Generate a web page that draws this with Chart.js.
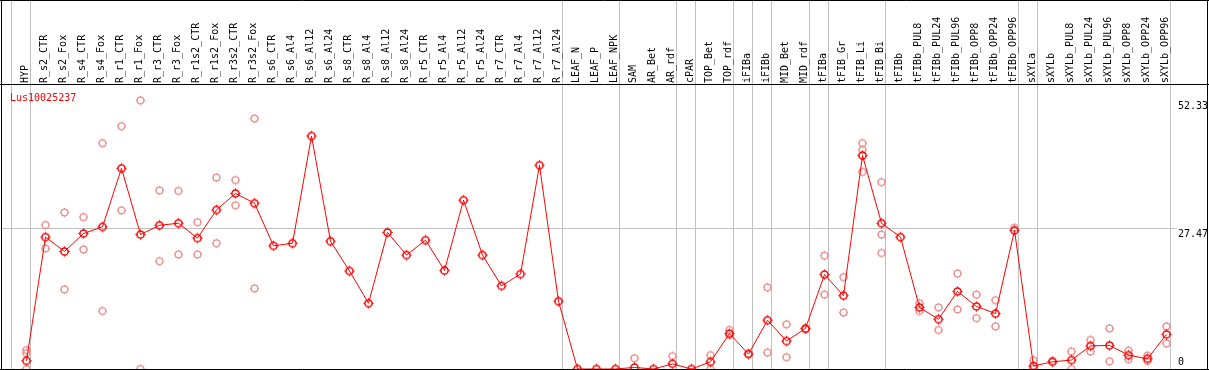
<!DOCTYPE html>
<html>
<head>
<meta charset="utf-8">
<script src="https://cdn.jsdelivr.net/npm/chart.js@4/dist/chart.umd.min.js"></script>
<style>
  html, body { margin: 0; padding: 0; background: #ffffff; }
  #wrap { width: 1209px; height: 370px; position: relative; }
</style>
</head>
<body>
<div id="wrap"><canvas id="c" width="1209" height="370"></canvas></div>
<script>
const chartTitle = "Lus10025237";

const categories = [
  "HYP","R_s2_CTR","R_s2_Fox","R_s4_CTR","R_s4_Fox","R_r1_CTR","R_r1_Fox","R_r3_CTR","R_r3_Fox",
  "R_r1s2_CTR","R_r1s2_Fox","R_r3s2_CTR","R_r3s2_Fox","R_s6_CTR","R_s6_Al4","R_s6_Al12","R_s6_Al24",
  "R_s8_CTR","R_s8_Al4","R_s8_Al12","R_s8_Al24","R_r5_CTR","R_r5_Al4","R_r5_Al12","R_r5_Al24",
  "R_r7_CTR","R_r7_Al4","R_r7_Al12","R_r7_Al24","LEAF_N","LEAF_P","LEAF_NPK","SAM","AR_Bet","AR_rdf",
  "cPAR","TOP_Bet","TOP_rdf","iFIBa","iFIBb","MID_Bet","MID_rdf","tFIBa","tFIB_Gr","tFIB_Li","tFIB_Bi",
  "tFIBb","tFIBb_PUL8","tFIBb_PUL24","tFIBb_PUL96","tFIBb_OPP8","tFIBb_OPP24","tFIBb_OPP96",
  "sXYLa","sXYLb","sXYLb_PUL8","sXYLb_PUL24","sXYLb_PUL96","sXYLb_OPP8","sXYLb_OPP24","sXYLb_OPP96"
];

const meanValues = [
  1.6, 25.7, 22.9, 26.4, 27.7, 39.1, 26.2, 28.0, 28.4,
  25.5, 31.0, 34.2, 32.3, 24.0, 24.5, 45.4, 24.9,
  19.1, 12.8, 26.6, 22.2, 25.1, 19.2, 32.9, 22.2,
  16.2, 18.5, 39.7, 13.2, 0, 0, 0, 0.3, 0, 1.0,
  0, 1.4, 6.9, 2.9, 9.5, 5.45, 7.9, 18.4, 14.3, 41.6, 28.4,
  25.7, 12.0, 9.7, 15.1, 12.2, 10.8, 27.0,
  0.6, 1.4, 1.75, 4.5, 4.6, 2.7, 2.0, 6.75
];

const replicateA = [
  3.7, 28.05, 30.5, 29.6, 44.0, 47.3, 52.33, 34.8, 34.7,
  28.6, 37.3, 36.8, 48.8, null, null, null, null,
  null, null, null, null, null, null, null, null,
  null, null, null, null, null, null, null, 2.1, null, 2.5,
  null, 2.7, 7.6, 3.05, 15.9, 8.7, 7.7, 22.1, 17.9, 44.0, 36.4,
  null, 12.8, 12.0, 18.6, 14.5, 13.4, 27.5,
  1.7, 1.6, 3.4, 5.65, 7.9, 3.6, 2.6, 8.3
];

const replicateB = [
  3.1, 23.5, 15.5, 23.3, 11.3, 30.9, 0, 21.0, 22.3,
  22.3, 24.5, 31.9, 15.7, null, null, null, null,
  null, null, null, null, null, null, null, null,
  null, null, null, null, null, null, null, null, null, null,
  null, 0, 6.6, null, 3.2, 2.3, null, 14.5, 11.0, 42.7, 26.2,
  null, 11.3, 7.6, 11.6, 9.9, 8.3, null,
  0, null, 0, 3.4, 1.5, 1.9, 1.56, 5.0
];

const replicateC = [
  0, null, null, null, null, null, null, null, null,
  null, null, null, null, null, null, null, null,
  null, null, null, null, null, null, null, null,
  null, null, null, null, null, null, null, null, null, null,
  null, null, null, null, null, null, null, null, null, 38.4, 22.6,
  null, null, null, null, null, null, null,
  null, null, null, null, null, null, null, null
];

const yTickLabels = ["52.33", "27.47", "0"];
const yTickValues = [52.33, 27.47, 0];
const gridValues = [27.47];
const groupEnds = [-1, 0, 28, 31, 34, 35, 37, 38, 39, 41, 42, 45, 52, 53, 60];

function makeMarker(color, r, lw, tick) {
  const s = 15;
  const cv = document.createElement('canvas');
  cv.width = s; cv.height = s;
  const g = cv.getContext('2d');
  const c = s / 2;
  g.strokeStyle = color;
  g.lineWidth = lw;
  g.beginPath();
  g.arc(c, c, r, 0, Math.PI * 2);
  g.stroke();
  g.lineWidth = 1;
  g.beginPath();
  g.moveTo(c, c - r - tick); g.lineTo(c, c - r);
  g.moveTo(c, c + r); g.lineTo(c, c + r + tick);
  g.moveTo(c - r - tick, c); g.lineTo(c - r, c);
  g.moveTo(c + r, c); g.lineTo(c + r + tick, c);
  g.stroke();
  return cv;
}
const mainMarker = makeMarker('#ff0000', 3.6, 1.5, 1.5);
const repMarker = makeMarker('#ec8c8c', 3.4, 1.3, 1.2);

const FONT = '10px "DejaVu Sans Mono", "Liberation Mono", monospace';

const decor = {
  id: 'decor',
  beforeDatasetsDraw(chart) {
    const ctx = chart.ctx;
    const xs = chart.scales.x, ys = chart.scales.y;
    const H = chart.height;
    const step = xs.getPixelForValue(1) - xs.getPixelForValue(0);
    ctx.save();
    ctx.strokeStyle = '#c0c0c0';
    ctx.lineWidth = 1;
    ctx.beginPath();
    groupEnds.forEach(i => {
      const px = Math.round(xs.getPixelForValue(0) + i * step + 0.19 * step) + 0.5;
      ctx.moveTo(px, 0); ctx.lineTo(px, H);
    });
    gridValues.forEach(v => {
      const py = Math.round(ys.getPixelForValue(v)) + 0.5;
      ctx.moveTo(1, py); ctx.lineTo(1177, py);
    });
    ctx.stroke();
    ctx.fillStyle = '#000000';
    ctx.font = FONT;
    ctx.textAlign = 'left';
    ctx.textBaseline = 'alphabetic';
    categories.forEach((lab, i) => {
      const px = xs.getPixelForValue(i);
      ctx.save();
      ctx.translate(px + 1, 83);
      ctx.rotate(-Math.PI / 2);
      ctx.fillText(lab, 0, 0);
      ctx.restore();
    });
    yTickLabels.forEach((lab, k) => {
      const py = ys.getPixelForValue(yTickValues[k]);
      if (yTickValues[k] === 0) {
        ctx.textBaseline = 'bottom';
        ctx.fillText(lab, 1178, py - 2);
      } else {
        ctx.textBaseline = 'top';
        ctx.fillText(lab, 1178, py + 1);
      }
    });
    ctx.fillStyle = '#ff0000';
    ctx.textBaseline = 'alphabetic';
    ctx.fillText(chartTitle, 10, 101);
    ctx.restore();
  },
  afterDraw(chart) {
    const ctx = chart.ctx;
    const W = chart.width, H = chart.height;
    ctx.save();
    ctx.strokeStyle = '#000000';
    ctx.lineWidth = 1;
    ctx.beginPath();
    ctx.moveTo(0, 0.5); ctx.lineTo(W, 0.5);
    ctx.moveTo(0, 84.5); ctx.lineTo(W, 84.5);
    ctx.moveTo(0, 369.5); ctx.lineTo(W, 369.5);
    ctx.moveTo(1.5, 0); ctx.lineTo(1.5, H);
    ctx.moveTo(W - 1.5, 0); ctx.lineTo(W - 1.5, H);
    ctx.stroke();
    ctx.restore();
  }
};

new Chart(document.getElementById('c'), {
  type: 'line',
  data: {
    labels: categories,
    datasets: [
      {
        label: 'mean', data: meanValues, order: 0,
        borderColor: '#ff0000', borderWidth: 1, tension: 0,
        pointStyle: mainMarker, pointRadius: 4, pointHoverRadius: 4,
        fill: false, clip: false
      },
      {
        label: 'repA', data: replicateA, order: 1, showLine: false,
        pointStyle: repMarker, pointRadius: 4, clip: false
      },
      {
        label: 'repB', data: replicateB, order: 2, showLine: false,
        pointStyle: repMarker, pointRadius: 4, clip: false
      },
      {
        label: 'repC', data: replicateC, order: 3, showLine: false,
        pointStyle: repMarker, pointRadius: 4, clip: false
      }
    ]
  },
  options: {
    responsive: false,
    animation: false,
    events: [],
    layout: { autoPadding: false, padding: { left: 17, right: 33, top: 85, bottom: 1 } },
    plugins: { legend: { display: false }, tooltip: { enabled: false } },
    scales: {
      x: { type: 'category', offset: true, display: false, grid: { display: false } },
      y: { type: 'linear', min: 0, max: 55.33, display: false, grid: { display: false } }
    }
  },
  plugins: [decor]
});
</script>
</body>
</html>
